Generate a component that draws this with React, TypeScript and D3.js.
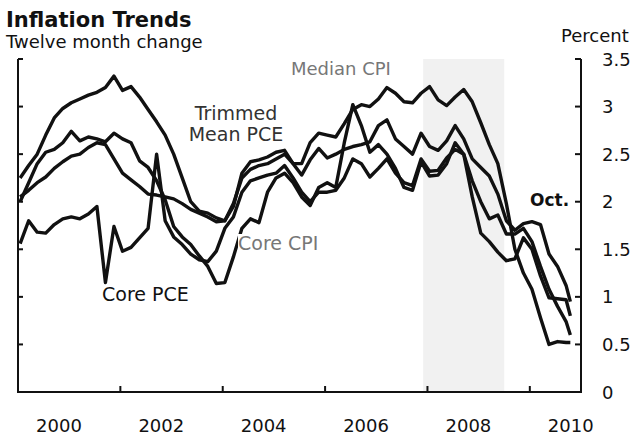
import React from 'react';
import * as d3 from 'd3';

// months since Jan 2000, every second month, last point is Oct 2010
const MONTHS = d3.range(0, 130, 2).concat([129]);

const MEDIAN_CPI = [
  2.25, 2.38, 2.5, 2.7, 2.88, 2.98, 3.04, 3.08, 3.12, 3.15, 3.2, 3.32,
  3.17, 3.21, 3.1, 2.97, 2.84, 2.7, 2.5, 2.25, 2.0, 1.9, 1.88, 1.83,
  1.8, 1.95, 2.3, 2.42, 2.44, 2.47, 2.52, 2.54, 2.4, 2.4, 2.62, 2.72,
  2.7, 2.68, 2.82, 2.97, 3.02, 3.0, 3.08, 3.2, 3.14, 3.05, 3.04, 3.14,
  3.21, 3.07, 3.01, 3.1, 3.18, 3.05, 2.83, 2.6, 2.4, 1.98, 1.5, 1.25,
  1.08, 0.78, 0.5, 0.53, 0.52, 0.52,
];

const TRIMMED_MEAN_PCE = [
  2.05, 2.12, 2.2, 2.26, 2.35, 2.42, 2.48, 2.5, 2.57, 2.62, 2.6, 2.45,
  2.3, 2.23, 2.16, 2.08, 2.07, 2.05, 2.03, 1.98, 1.92, 1.88, 1.84, 1.79,
  1.8, 1.98, 2.25, 2.34, 2.38, 2.4, 2.45, 2.5, 2.4, 2.28, 2.44, 2.56,
  2.46, 2.5, 2.55, 2.58, 2.6, 2.63, 2.8, 2.86, 2.66, 2.58, 2.5, 2.72,
  2.58, 2.54, 2.64, 2.8, 2.66, 2.45, 2.36, 2.27, 2.08, 1.8, 1.7, 1.77,
  1.79, 1.76, 1.45, 1.32, 1.12, 0.95,
];

const CORE_CPI = [
  2.0, 2.2, 2.4, 2.52, 2.55, 2.62, 2.74, 2.64, 2.68, 2.66, 2.63, 2.72,
  2.66, 2.62, 2.43, 2.36, 2.22, 2.02, 1.74, 1.63, 1.55, 1.43, 1.32, 1.14,
  1.15, 1.42, 1.72, 1.82, 1.78, 2.1, 2.25, 2.3, 2.2, 2.05, 1.96, 2.15,
  2.2, 2.15, 2.62, 3.02, 2.8, 2.52, 2.6, 2.5, 2.35, 2.15, 2.12, 2.42,
  2.27, 2.28, 2.4, 2.62, 2.5, 2.22, 2.0, 1.82, 1.86, 1.66, 1.66, 1.72,
  1.58, 1.32, 1.08, 0.9, 0.74, 0.6,
];

const CORE_PCE = [
  1.56, 1.8, 1.68, 1.67, 1.76, 1.82, 1.84, 1.82, 1.87, 1.95, 1.15, 1.74,
  1.48, 1.52, 1.62, 1.72, 2.5, 1.8, 1.63, 1.55, 1.45, 1.39, 1.37, 1.48,
  1.72, 1.84, 2.1, 2.22, 2.25, 2.28, 2.3, 2.38, 2.25, 2.1, 2.0, 2.1,
  2.1, 2.12, 2.25, 2.45, 2.4, 2.26, 2.35, 2.45, 2.3, 2.2, 2.17, 2.45,
  2.32, 2.33, 2.46, 2.55, 2.5, 2.05, 1.67, 1.58, 1.47, 1.38, 1.4, 1.62,
  1.5, 1.22, 0.99, 0.98, 0.97, 0.8,
];

const SERIES = [CORE_PCE, CORE_CPI, TRIMMED_MEAN_PCE, MEDIAN_CPI];

const Y_TICKS = [0, 0.5, 1, 1.5, 2, 2.5, 3, 3.5];
const X_TICKS = [2002, 2004, 2006, 2008, 2010];
const X_LABELS = [2000, 2002, 2004, 2006, 2008, 2010];
const RECESSION = [2007 + 11 / 12, 2009.5];

const FONT = '"DejaVu Sans", Verdana, sans-serif';

export default function App() {
  const left = 18, right = 581, top = 59, bottom = 392;

  const x = d3.scaleLinear().domain([2000, 2011]).range([left, right]);
  const y = d3.scaleLinear().domain([0, 3.5]).range([bottom, top]);

  const when = (m: number) => 2000 + (m + 0.5) / 12;
  const line = d3.line<number>()
    .x((_, i) => x(when(MONTHS[i])))
    .y((d) => y(d));

  return (
    <svg width={638} height={435} style={{ position: 'absolute', left: 0, top: 0, background: '#fff' }}
      fontFamily={FONT}>
      {/* recession shading */}
      <rect x={x(RECESSION[0])} y={top} width={x(RECESSION[1]) - x(RECESSION[0])}
        height={bottom - top} fill="#f1f1f1" />

      {/* titles */}
      <text x={6} y={27} fontSize={21} fontWeight="bold" fill="#111">Inflation Trends</text>
      <text x={6} y={48} fontSize={18} fill="#111">Twelve month change</text>
      <text x={561} y={42} fontSize={18} fill="#111">Percent</text>

      {/* series */}
      {SERIES.map((s, i) => (
        <path key={i} d={line(s) || ''} fill="none" stroke="#111" strokeWidth={3.4}
          strokeLinejoin="round" />
      ))}

      {/* in-plot labels */}
      <text x={291} y={75} fontSize={18} fill="#777">Median CPI</text>
      <text x={236} y={120} fontSize={19} fill="#333" textAnchor="middle">Trimmed</text>
      <text x={236} y={141} fontSize={19} fill="#333" textAnchor="middle">Mean PCE</text>
      <rect x={238} y={234} width={96} height={22} fill="#fff" />
      <text x={238} y={250} fontSize={19} fill="#777">Core CPI</text>
      <text x={102} y={301} fontSize={19} fill="#111">Core PCE</text>
      <text x={530} y={206} fontSize={17} fontWeight="bold" fill="#111">Oct.</text>

      {/* axes */}
      <g stroke="#111" strokeWidth={2}>
        <line x1={left} x2={left} y1={top} y2={bottom + 1} />
        <line x1={right} x2={right} y1={top} y2={bottom + 1} />
        <line x1={left} x2={right + 1} y1={bottom} y2={bottom} />
        {Y_TICKS.map((v) => (
          <g key={v}>
            <line x1={left} x2={left + 5} y1={y(v)} y2={y(v)} />
            <line x1={right - 6} x2={right} y1={y(v)} y2={y(v)} />
          </g>
        ))}
        {X_TICKS.map((t) => (
          <line key={t} x1={x(t)} x2={x(t)} y1={bottom} y2={bottom - 6} />
        ))}
      </g>
      {Y_TICKS.map((v) => (
        <text key={v} x={602} y={y(v) + 6.5} fontSize={18} fill="#111">{v}</text>
      ))}
      {X_LABELS.map((t) => (
        <text key={t} x={x(t + 0.8)} y={432} fontSize={18} fill="#111" textAnchor="middle">{t}</text>
      ))}
    </svg>
  );
}
